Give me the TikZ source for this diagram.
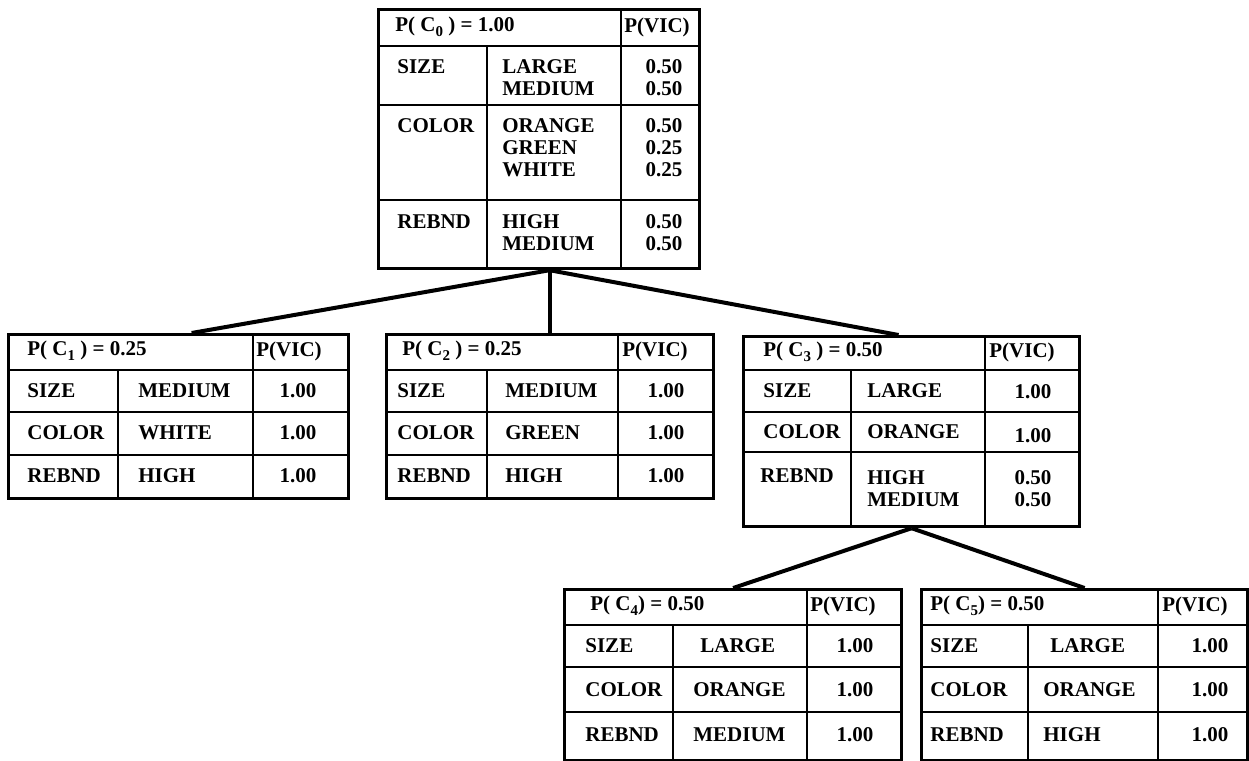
\documentclass[tikz,border=0pt]{standalone}
\usepackage{fontspec}
\setmainfont{Liberation Serif}
\usetikzlibrary{calc}
\newcommand\csub[1]{\raisebox{-0.5ex}{\fontsize{7.5}{8}\selectfont #1}}
\begin{document}
\begin{tikzpicture}[x=0.5pt,y=-0.5pt,
  tbox/.style={draw, line width=1.6pt, inner sep=0pt, anchor=north west},
  inner/.style={line width=1.2pt},
  conn/.style={line width=2pt},
  t/.style={anchor=west, inner sep=0pt, font=\bfseries\fontsize{10.5}{12}\selectfont},
  n/.style={anchor=center, inner sep=0pt, font=\bfseries\fontsize{10.5}{12}\selectfont}]
\useasboundingbox (0,0) rectangle (1249,761);

% ---------- C0 ----------
\node[tbox, minimum width=160.5pt, minimum height=129.5pt] (c0) at (377,8) {};
\draw[inner] (377,46) -- (698,46);
\draw[inner] (377,105) -- (698,105);
\draw[inner] (377,200) -- (698,200);
\draw[inner] (487,46) -- (487,267);
\draw[inner] (621,8) -- (621,267);
\node[t] (c0h) at (395,27) {P( C\csub{0} ) = 1.00};
\node[t] (c0v) at (624,27) {P(VIC)};
\node[t] (c0a) at (397,67) {SIZE};
\node[t] (c0a1) at (502,67) {LARGE};
\node[t] (c0a2) at (502,89) {MEDIUM};
\node[n] (c0a1n) at (664,67) {0.50};
\node[n] (c0a2n) at (664,89) {0.50};
\node[t] (c0b) at (397,126) {COLOR};
\node[t] (c0b1) at (502,126) {ORANGE};
\node[t] (c0b2) at (502,148) {GREEN};
\node[t] (c0b3) at (502,170) {WHITE};
\node[n] (c0b1n) at (664,126) {0.50};
\node[n] (c0b2n) at (664,148) {0.25};
\node[n] (c0b3n) at (664,170) {0.25};
\node[t] (c0c) at (397,222) {REBND};
\node[t] (c0c1) at (502,222) {HIGH};
\node[t] (c0c2) at (502,244) {MEDIUM};
\node[n] (c0c1n) at (664,222) {0.50};
\node[n] (c0c2n) at (664,244) {0.50};

% ---------- C1 ----------
\node[tbox, minimum width=170pt, minimum height=82pt] (c1) at (7,333) {};
\draw[inner] (7,370) -- (347,370);
\draw[inner] (7,412) -- (347,412);
\draw[inner] (7,455) -- (347,455);
\draw[inner] (118,370) -- (118,497);
\draw[inner] (253,333) -- (253,497);
\node[t] (c1h) at (27,351) {P( C\csub{1} ) = 0.25};
\node[t] (c1v) at (256,351) {P(VIC)};
\node[t] (c1a) at (27,391) {SIZE};
\node[t] (c1a1) at (138,391) {MEDIUM};
\node[n] (c1an) at (298,391) {1.00};
\node[t] (c1b) at (27,433) {COLOR};
\node[t] (c1b1) at (138,433) {WHITE};
\node[n] (c1bn) at (298,433) {1.00};
\node[t] (c1c) at (27,476) {REBND};
\node[t] (c1c1) at (138,476) {HIGH};
\node[n] (c1cn) at (298,476) {1.00};

% ---------- C2 ----------
\node[tbox, minimum width=163.5pt, minimum height=82pt] (c2) at (385,333) {};
\draw[inner] (385,370) -- (712,370);
\draw[inner] (385,412) -- (712,412);
\draw[inner] (385,455) -- (712,455);
\draw[inner] (487,370) -- (487,497);
\draw[inner] (618,333) -- (618,497);
\node[t] (c2h) at (402,351) {P( C\csub{2} ) = 0.25};
\node[t] (c2v) at (622,351) {P(VIC)};
\node[t] (c2a) at (397,391) {SIZE};
\node[t] (c2a1) at (505,391) {MEDIUM};
\node[n] (c2an) at (666,391) {1.00};
\node[t] (c2b) at (397,433) {COLOR};
\node[t] (c2b1) at (505,433) {GREEN};
\node[n] (c2bn) at (666,433) {1.00};
\node[t] (c2c) at (397,476) {REBND};
\node[t] (c2c1) at (505,476) {HIGH};
\node[n] (c2cn) at (666,476) {1.00};

% ---------- C3 ----------
\node[tbox, minimum width=168pt, minimum height=95pt] (c3) at (742,335) {};
\draw[inner] (742,370) -- (1078,370);
\draw[inner] (742,412) -- (1078,412);
\draw[inner] (742,452) -- (1078,452);
\draw[inner] (851,370) -- (851,525);
\draw[inner] (985,335) -- (985,525);
\node[t] (c3h) at (763,352) {P( C\csub{3} ) = 0.50};
\node[t] (c3v) at (989,352) {P(VIC)};
\node[t] (c3a) at (763,391) {SIZE};
\node[t] (c3a1) at (867,391) {LARGE};
\node[n] (c3an) at (1033,392) {1.00};
\node[t] (c3b) at (763,432) {COLOR};
\node[t] (c3b1) at (867,432) {ORANGE};
\node[n] (c3bn) at (1033,436) {1.00};
\node[t] (c3c) at (760,476) {REBND};
\node[t] (c3c1) at (867,478) {HIGH};
\node[t] (c3c2) at (867,500) {MEDIUM};
\node[n] (c3c1n) at (1033,478) {0.50};
\node[n] (c3c2n) at (1033,500) {0.50};

% ---------- C4 ----------
\node[tbox, minimum width=168.5pt, minimum height=85.5pt] (c4) at (563,588) {};
\draw[inner] (563,625) -- (900,625);
\draw[inner] (563,667) -- (900,667);
\draw[inner] (563,712) -- (900,712);
\draw[inner] (673,625) -- (673,759);
\draw[inner] (807,588) -- (807,759);
\node[t] (c4h) at (590,606) {P( C\csub{4}) = 0.50};
\node[t] (c4v) at (810,606) {P(VIC)};
\node[t] (c4a) at (585,646) {SIZE};
\node[t] (c4a1) at (700,646) {LARGE};
\node[n] (c4an) at (855,646) {1.00};
\node[t] (c4b) at (585,690) {COLOR};
\node[t] (c4b1) at (693,690) {ORANGE};
\node[n] (c4bn) at (855,690) {1.00};
\node[t] (c4c) at (585,735) {REBND};
\node[t] (c4c1) at (693,735) {MEDIUM};
\node[n] (c4cn) at (855,735) {1.00};

% ---------- C5 ----------
\node[tbox, minimum width=163pt, minimum height=85.5pt] (c5) at (920,588) {};
\draw[inner] (920,625) -- (1246,625);
\draw[inner] (920,667) -- (1246,667);
\draw[inner] (920,712) -- (1246,712);
\draw[inner] (1028,625) -- (1028,759);
\draw[inner] (1158,588) -- (1158,759);
\node[t] (c5h) at (930,606) {P( C\csub{5}) = 0.50};
\node[t] (c5v) at (1162,606) {P(VIC)};
\node[t] (c5a) at (930,646) {SIZE};
\node[t] (c5a1) at (1050,646) {LARGE};
\node[n] (c5an) at (1210,646) {1.00};
\node[t] (c5b) at (930,690) {COLOR};
\node[t] (c5b1) at (1043,690) {ORANGE};
\node[n] (c5bn) at (1210,690) {1.00};
\node[t] (c5c) at (930,735) {REBND};
\node[t] (c5c1) at (1043,735) {HIGH};
\node[n] (c5cn) at (1210,735) {1.00};

% ---------- connectors ----------
\coordinate (j0) at ([xshift=5.25pt]c0.south);
\coordinate (j3) at (c3.south);
\draw[conn] (j0) -- ([xshift=6.5pt]c1.north);
\draw[conn] (j0) -- (j0 |- c2.north);
\draw[conn] (j0) -- ([xshift=-6.5pt]c3.north);
\draw[conn] (j3) -- (c4.north);
\draw[conn] (j3) -- (c5.north);
\end{tikzpicture}
\end{document}
